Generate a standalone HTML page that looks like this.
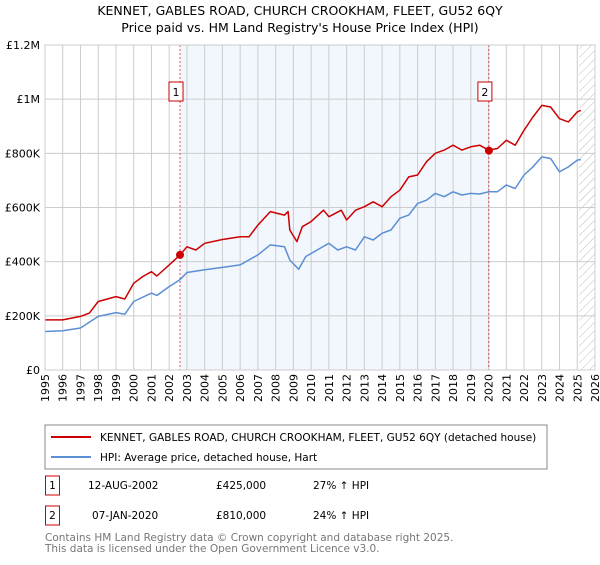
<!DOCTYPE html>
<html><head><meta charset="utf-8"><style>
body{margin:0;background:#fff;font-family:"Liberation Sans","DejaVu Sans",sans-serif;}
svg text{font-family:"DejaVu Sans","Liberation Sans",sans-serif;}
</style></head><body>
<svg id="c" width="600" height="560" xmlns="http://www.w3.org/2000/svg">
<defs><pattern id="hatch" width="6" height="6" patternUnits="userSpaceOnUse" patternTransform="rotate(45)"><line x1="0" y1="0" x2="0" y2="6" stroke="#bbb" stroke-width="1"/></pattern></defs>
<text x="300" y="15" text-anchor="middle" font-size="12.5" fill="#000">KENNET, GABLES ROAD, CHURCH CROOKHAM, FLEET, GU52 6QY</text>
<text x="300" y="32" text-anchor="middle" font-size="12.5" fill="#000">Price paid vs. HM Land Registry's House Price Index (HPI)</text>
<g id="plot"></g>
<rect x="45" y="425" width="502" height="44" fill="#fff" stroke="#888"/>
<line x1="51" y1="437" x2="91" y2="437" stroke="#cc0000" stroke-width="2"/>
<text x="100" y="441" font-size="10.5">KENNET, GABLES ROAD, CHURCH CROOKHAM, FLEET, GU52 6QY (detached house)</text>
<line x1="51" y1="457" x2="91" y2="457" stroke="#5b8fd4" stroke-width="2"/>
<text x="100" y="461" font-size="10.5">HPI: Average price, detached house, Hart</text>
<g>
<rect x="45.5" y="476" width="14" height="19" fill="#fff" stroke="#cc0000"/>
<text x="52.5" y="489" font-size="10.5" text-anchor="middle">1</text>
<text x="88" y="489" font-size="10.5">12-AUG-2002</text>
<text x="216" y="489" font-size="10.5">£425,000</text>
<text x="313" y="489" font-size="10.5">27% ↑ HPI</text></g>
<g>
<rect x="45.5" y="506" width="14" height="19" fill="#fff" stroke="#cc0000"/>
<text x="52.5" y="519" font-size="10.5" text-anchor="middle">2</text>
<text x="92" y="519" font-size="10.5">07-JAN-2020</text>
<text x="216" y="519" font-size="10.5">£810,000</text>
<text x="313" y="519" font-size="10.5">24% ↑ HPI</text></g>
<text x="45" y="541" font-size="10.5" fill="#777">Contains HM Land Registry data © Crown copyright and database right 2025.</text>
<text x="45" y="552" font-size="10.5" fill="#777">This data is licensed under the Open Government Licence v3.0.</text>
</svg>
<script>
const yTicks=[0,200000,400000,600000,800000,1000000,1200000];
const yTickLabels=["£0","£200K","£400K","£600K","£800K","£1M","£1.2M"];
const years=[1995,1996,1997,1998,1999,2000,2001,2002,2003,2004,2005,2006,2007,2008,2009,2010,2011,2012,2013,2014,2015,2016,2017,2018,2019,2020,2021,2022,2023,2024,2025,2026];
const propT=[1995,1996,1997,1997.5,1998,1999,1999.5,2000,2000.5,2001,2001.3,2002,2002.6,2003,2003.5,2004,2005,2006,2006.5,2007,2007.7,2008.5,2008.7,2008.8,2009.2,2009.5,2010,2010.7,2011,2011.7,2012,2012.5,2013,2013.5,2014,2014.5,2015,2015.5,2016,2016.5,2017,2017.5,2018,2018.5,2019,2019.5,2020,2020.5,2021,2021.5,2022,2022.5,2023,2023.5,2024,2024.5,2025,2025.2];
const propV=[185,185,198,210,253,271,262,320,345,363,347,388,424,455,443,468,482,492,492,535,585,572,585,517,474,529,548,590,566,590,554,590,603,621,603,640,664,713,720,769,800,812,830,812,824,830,812,818,848,830,885,934,977,971,928,916,953,959];
const hpiT=[1995,1996,1997,1998,1999,1999.5,2000,2001,2001.3,2002,2002.6,2003,2004,2005,2006,2007,2007.7,2008.5,2008.8,2009.3,2009.7,2010.5,2011,2011.5,2012,2012.5,2013,2013.5,2014,2014.5,2015,2015.5,2016,2016.5,2017,2017.5,2018,2018.5,2019,2019.5,2020,2020.5,2021,2021.5,2022,2022.5,2023,2023.5,2024,2024.5,2025,2025.2];
const hpiV=[142,145,155,198,212,206,253,284,275,308,333,360,370,379,388,425,462,455,406,372,419,449,468,443,455,443,492,480,505,517,560,572,615,627,652,640,658,646,652,650,658,658,683,670,720,750,787,781,732,750,775,777];
const saleT=[2002.61,2020.02];
const saleV=[425000,810000];
const saleLabels=["1","2"];
const X0=45,X1=595,Y0=370,Y1=45;
const xs=t=>X0+(t-1995)/(2026-1995)*(X1-X0);
const ys=v=>Y0-v/1200000*(Y0-Y1);
const NS="http://www.w3.org/2000/svg";
const g=document.getElementById('plot');
function mk(tag,attrs,parent){const e=document.createElementNS(NS,tag);for(const k in attrs)e.setAttribute(k,attrs[k]);(parent||g).appendChild(e);return e;}
let e;
e=mk('rect',{x:X0,y:Y1,width:X1-X0,height:Y0-Y1,fill:'#fff'});


e=mk('rect',{x:xs(saleT[0]),y:Y1,width:xs(saleT[1])-xs(saleT[0]),height:Y0-Y1,fill:'#f2f6fd'});


e=mk('rect',{x:xs(2025.1),y:Y1,width:X1-xs(2025.1),height:Y0-Y1,fill:'url(#hatch)'});


years.forEach(yr=>{
 e=mk('line',{x1:xs(yr),x2:xs(yr),y1:Y1,y2:Y0,stroke:'#ccc','stroke-width':1});
 
 
 const tx=xs(yr)+4,ty=374;
 e=mk('text',{x:tx,y:ty,'font-size':11,'text-anchor':'end',transform:`rotate(-90 ${tx} ${ty})`});
 e.textContent=yr;
 
 
});
yTicks.forEach((v,i)=>{
 e=mk('line',{x1:X0,x2:X1,y1:ys(v),y2:ys(v),stroke:'#ccc','stroke-width':1});
 
 
 e=mk('text',{x:40,y:ys(v)+4,'font-size':11,'text-anchor':'end'});
 e.textContent=yTickLabels[i];
 
 
});
saleT.forEach((t,i)=>{
 e=mk('line',{x1:xs(t),x2:xs(t),y1:Y1,y2:Y0,stroke:'#e05050','stroke-width':1,'stroke-dasharray':'2,2'});
 
 
});
function path(T,V,color,name){
 const d=T.map((t,i)=>(i?'L':'M')+xs(t).toFixed(1)+','+ys(V[i]*1000).toFixed(1)).join('');
 e=mk('path',{d:d,fill:'none',stroke:color,'stroke-width':1.5,'stroke-linejoin':'round'});
 
 
}
path(hpiT,hpiV,'#5b8fd4','hpi-line');
path(propT,propV,'#cc0000','property-line');
saleT.forEach((t,i)=>{
 e=mk('circle',{cx:xs(t),cy:ys(saleV[i]),r:4,fill:'#cc0000'});
 
 
 e=mk('rect',{x:xs(t)-11,y:82,width:14,height:19,fill:'#fff',stroke:'#cc0000'});
 
 
 e=mk('text',{x:xs(t)-4,y:96,'font-size':11,'text-anchor':'middle'});
 e.textContent=saleLabels[i];
 
 
});
e=mk('rect',{x:X0,y:Y1,width:X1-X0,height:Y0-Y1,fill:'none',stroke:'#ccc'});


</script>
</body></html>
